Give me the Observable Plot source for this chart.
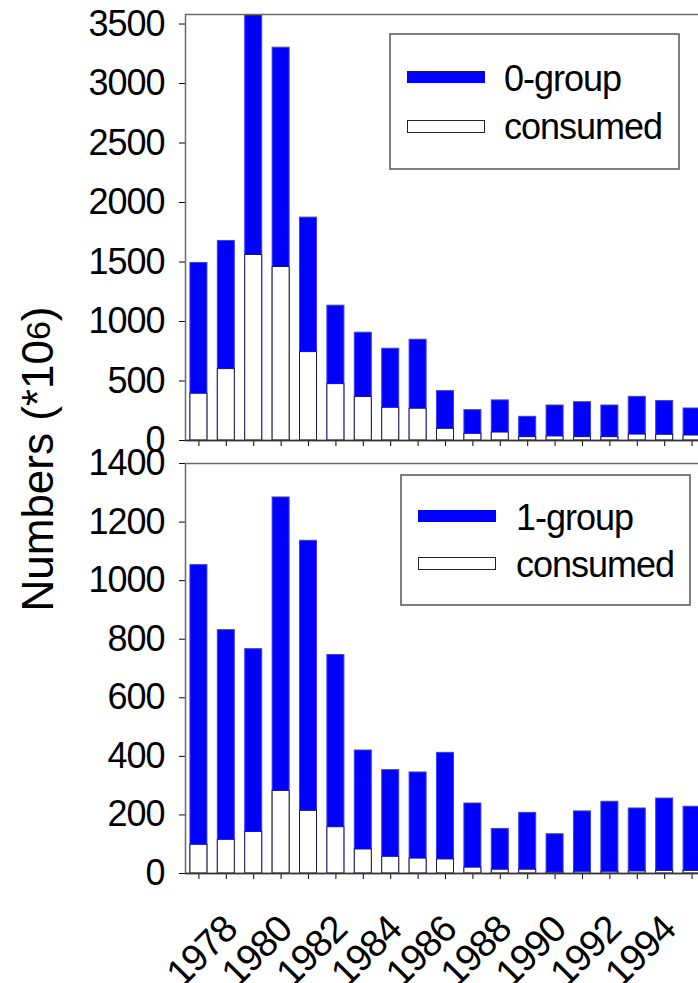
<!DOCTYPE html>
<html>
<head>
<meta charset="utf-8">
<script src="https://cdn.jsdelivr.net/npm/d3@7"></script>
<script src="https://cdn.jsdelivr.net/npm/@observablehq/plot@0.6"></script>
<style>
  html, body { margin: 0; padding: 0; background: #fff; overflow: hidden; }
  #wrap { position: relative; width: 698px; height: 983px; overflow: hidden; }
  .layer { position: absolute; left: 0; }
  svg text { letter-spacing: -1px; }
</style>
</head>
<body>
<div id="wrap"></div>
<script>
// ---- data ----
const years = [1977, 1978, 1979, 1980, 1981, 1982, 1983, 1984, 1985, 1986, 1987, 1988, 1989, 1990, 1991, 1992, 1993, 1994, 1995];
const group0Total = [1492, 1677, 3575, 3301, 1873, 1133, 906, 771, 847, 415, 255, 337, 199, 294, 322, 294, 367, 331, 269];
const group0Consumed = [393, 600, 1559, 1458, 743, 474, 365, 275, 267, 98, 56, 67, 28, 34, 28, 28, 50, 48, 42];
const group1Total = [1053, 831, 766, 1284, 1136, 746, 420, 353, 345, 412, 239, 152, 207, 134, 212, 245, 222, 256, 228];
const group1Consumed = [98, 115, 142, 282, 214, 158, 82, 57, 51, 48, 20, 13, 13, 4, 6, 6, 7, 9, 9];
const yTicksTop = [0, 500, 1000, 1500, 2000, 2500, 3000, 3500];
const yTicksBottom = [0, 200, 400, 600, 800, 1000, 1200, 1400];
const xTickLabels = [1978, 1980, 1982, 1984, 1986, 1988, 1990, 1992, 1994];
const legendTop = ["0-group", "consumed"];
const legendBottom = ["1-group", "consumed"];
const yTitle = "Numbers (*10";
const yTitleSup = "6";

const BLUE = "#0000ff";
const FONT = "'Liberation Sans', Arial, Helvetica, sans-serif";

function rows(total, consumed) {
  return years.map((yr, i) => ({year: yr, total: total[i], consumed: consumed[i]}));
}

function panel({data, yMax, yTicks, height, marginTop, marginBottom, labels}) {
  const marks = [
    Plot.barY(data, {x: "year", y: "total", fill: BLUE, stroke: "#3b3bff", strokeWidth: 1}),
    Plot.barY(data, {x: "year", y: "consumed", fill: "white", stroke: "#1c1c44", strokeWidth: 1}),
    Plot.frame({stroke: "#6a6a6a", strokeWidth: 1.5}),
    Plot.ruleY([0], {stroke: "#333", strokeWidth: 1.5})
  ];
  if (labels) {
    marks.push(Plot.text(labels, {
      x: d => d, text: d => String(d), frameAnchor: "bottom", dy: 58, dx: 13, rotate: -45,
      textAnchor: "end", lineAnchor: "bottom", fontSize: 38, fill: "black"
    }));
  }
  return Plot.plot({
    width: 710,
    height,
    marginLeft: 185,
    marginRight: 5,
    marginTop,
    marginBottom,
    style: {background: "transparent", overflow: "visible", maxWidth: "none", fontFamily: FONT, fontSize: "36px", color: "black"},
    x: {type: "band", domain: years, round: false, paddingInner: 0.38, paddingOuter: 0.18, tickSize: 6, tickFormat: () => "", label: null},
    y: {domain: [0, yMax], ticks: yTicks, tickSize: 6, tickPadding: 15, tickFormat: d => String(d), label: null, line: true},
    marks
  });
}

const wrap = document.getElementById("wrap");

const topPlot = panel({data: rows(group0Total, group0Consumed), yMax: 3580, yTicks: yTicksTop, height: 460, marginTop: 14, marginBottom: 20});
const topDiv = document.createElement("div");
topDiv.className = "layer"; topDiv.style.top = "0px";
topDiv.appendChild(topPlot);
wrap.appendChild(topDiv);

const bottomPlot = panel({data: rows(group1Total, group1Consumed), yMax: 1400, yTicks: yTicksBottom, height: 543, marginTop: 23, marginBottom: 110, labels: xTickLabels});
const botDiv = document.createElement("div");
botDiv.className = "layer"; botDiv.style.top = "440px";
botDiv.appendChild(bottomPlot);
wrap.appendChild(botDiv);

// ---- overlay: axis title and legends ----
const over = d3.select(wrap).append("svg")
  .attr("class", "layer")
  .style("top", "0px")
  .attr("width", 698).attr("height", 983)
  .style("pointer-events", "none")
  .style("font-family", FONT);

const title = over.append("text")
  .attr("transform", "translate(53,459) rotate(-90)")
  .attr("text-anchor", "middle")
  .style("font-size", "44px")
  .style("letter-spacing", "0px")
  .attr("fill", "black");
title.append("tspan").text(yTitle);
title.append("tspan").attr("dy", "-3").style("font-size", "34px").text(yTitleSup);
title.append("tspan").attr("dy", "3").text(")");

function legend(box, sw, textX, labels, baselines, swY) {
  const g = over.append("g");
  g.append("rect").attr("x", box[0]).attr("y", box[1]).attr("width", box[2]).attr("height", box[3])
    .attr("fill", "white").attr("stroke", "#555").attr("stroke-width", 1.5);
  g.append("rect").attr("x", sw).attr("y", swY[0]).attr("width", 78).attr("height", 12).attr("fill", BLUE);
  g.append("rect").attr("x", sw + 0.5).attr("y", swY[1] + 0.5).attr("width", 77).attr("height", 12)
    .attr("fill", "white").attr("stroke", "#222").attr("stroke-width", 1);
  labels.forEach((t, i) => {
    g.append("text").attr("x", textX).attr("y", baselines[i]).style("font-size", "36px").attr("fill", "black").text(t);
  });
}

legend([390, 34, 289, 135], 407, 504, legendTop, [91, 139], [71, 120]);
legend([401, 475, 289, 130], 418, 516, legendBottom, [530, 577], [510, 557]);
</script>
</body>
</html>
